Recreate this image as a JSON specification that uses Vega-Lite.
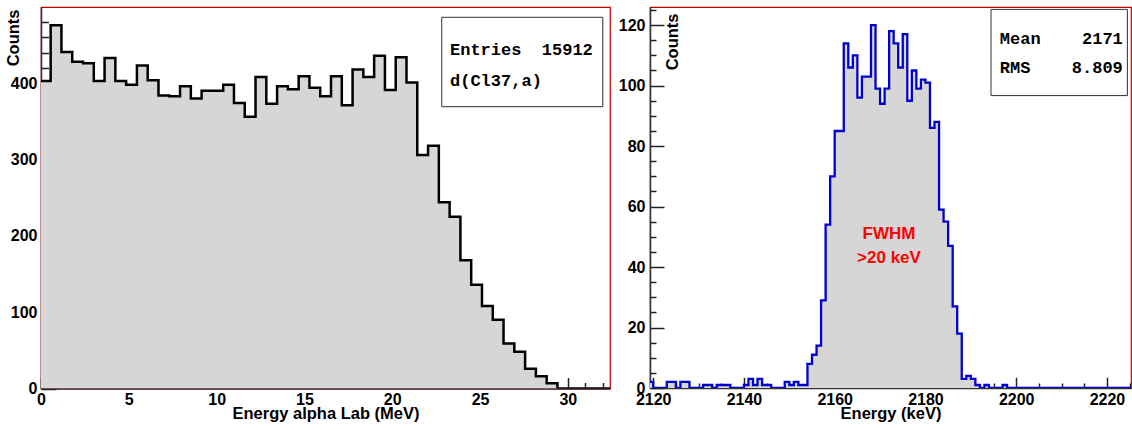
{
  "$schema": "https://vega.github.io/schema/vega-lite/v6.json",
  "autosize": {"type": "none"},
  "padding": {"left": 41, "top": 7, "right": 1091, "bottom": 423},
  "background": "white",
  "bounds": "flush",
  "spacing": 40,
  "config": {
    "view": {"stroke": "#c00000", "strokeWidth": 1.2},
    "font": "Liberation Sans",
    "axis": {
      "labelFont": "Liberation Sans", "labelFontWeight": "bold", "labelFontSize": 16, "labelColor": "black",
      "titleFont": "Liberation Sans", "titleFontWeight": "bold", "titleFontSize": 16.5, "titleColor": "black",
      "grid": false, "domainColor": "#333333", "domainWidth": 1.5, "tickColor": "#222222", "tickWidth": 1.5,
      "labelOverlap": false, "labelFlush": false, "labelBound": false, "zindex": 1, "ticks": true, "tickCount": 500,
      "format": "d"
    }
  },
  "datasets": {
    "alpha": [
      {"E": 0, "counts": 403}, {"E": 0.55, "counts": 476}, {"E": 1.164, "counts": 441}, {"E": 1.778, "counts": 428},
      {"E": 2.392, "counts": 426}, {"E": 3.006, "counts": 403}, {"E": 3.62, "counts": 433}, {"E": 4.234, "counts": 403},
      {"E": 4.848, "counts": 398}, {"E": 5.462, "counts": 423}, {"E": 6.076, "counts": 404}, {"E": 6.69, "counts": 384},
      {"E": 7.304, "counts": 383}, {"E": 7.918, "counts": 396}, {"E": 8.532, "counts": 380}, {"E": 9.146, "counts": 390},
      {"E": 9.76, "counts": 390}, {"E": 10.374, "counts": 398}, {"E": 10.988, "counts": 374}, {"E": 11.602, "counts": 356},
      {"E": 12.216, "counts": 408}, {"E": 12.83, "counts": 373}, {"E": 13.444, "counts": 396}, {"E": 14.058, "counts": 392},
      {"E": 14.672, "counts": 409}, {"E": 15.286, "counts": 394}, {"E": 15.9, "counts": 383}, {"E": 16.514, "counts": 409},
      {"E": 17.128, "counts": 371}, {"E": 17.742, "counts": 418}, {"E": 18.356, "counts": 408}, {"E": 18.97, "counts": 436},
      {"E": 19.584, "counts": 391}, {"E": 20.198, "counts": 434}, {"E": 20.812, "counts": 401}, {"E": 21.426, "counts": 306},
      {"E": 22.04, "counts": 318}, {"E": 22.654, "counts": 244}, {"E": 23.268, "counts": 225}, {"E": 23.882, "counts": 168},
      {"E": 24.496, "counts": 136}, {"E": 25.11, "counts": 108}, {"E": 25.724, "counts": 90}, {"E": 26.338, "counts": 59},
      {"E": 26.952, "counts": 48}, {"E": 27.566, "counts": 26}, {"E": 28.18, "counts": 16}, {"E": 28.794, "counts": 7},
      {"E": 29.408, "counts": 0}, {"E": 30.022, "counts": 0}, {"E": 30.636, "counts": 0}, {"E": 31.25, "counts": 0},
      {"E": 31.864, "counts": 0}, {"E": 32.478, "counts": 0}
    ],
    "gamma": [
      {"E": 2119, "counts": 2}, {"E": 2120, "counts": 0}, {"E": 2121, "counts": 0}, {"E": 2122, "counts": 0},
      {"E": 2123, "counts": 2}, {"E": 2124, "counts": 2}, {"E": 2125, "counts": 0}, {"E": 2126, "counts": 2},
      {"E": 2127, "counts": 2}, {"E": 2128, "counts": 0}, {"E": 2129, "counts": 0}, {"E": 2130, "counts": 0},
      {"E": 2131, "counts": 1}, {"E": 2132, "counts": 1}, {"E": 2133, "counts": 0}, {"E": 2134, "counts": 1},
      {"E": 2135, "counts": 1}, {"E": 2136, "counts": 1}, {"E": 2137, "counts": 0}, {"E": 2138, "counts": 0},
      {"E": 2139, "counts": 0}, {"E": 2140, "counts": 1}, {"E": 2141, "counts": 3}, {"E": 2142, "counts": 1},
      {"E": 2143, "counts": 3}, {"E": 2144, "counts": 1}, {"E": 2145, "counts": 1}, {"E": 2146, "counts": 0},
      {"E": 2147, "counts": 0}, {"E": 2148, "counts": 0}, {"E": 2149, "counts": 2}, {"E": 2150, "counts": 1},
      {"E": 2151, "counts": 2}, {"E": 2152, "counts": 1}, {"E": 2153, "counts": 1}, {"E": 2154, "counts": 8},
      {"E": 2155, "counts": 11}, {"E": 2156, "counts": 14}, {"E": 2157, "counts": 29}, {"E": 2158, "counts": 54},
      {"E": 2159, "counts": 70}, {"E": 2160, "counts": 85}, {"E": 2161, "counts": 85}, {"E": 2162, "counts": 114},
      {"E": 2163, "counts": 106}, {"E": 2164, "counts": 110}, {"E": 2165, "counts": 96}, {"E": 2166, "counts": 103},
      {"E": 2167, "counts": 103}, {"E": 2168, "counts": 120}, {"E": 2169, "counts": 99}, {"E": 2170, "counts": 94},
      {"E": 2171, "counts": 99}, {"E": 2172, "counts": 118}, {"E": 2173, "counts": 114}, {"E": 2174, "counts": 106},
      {"E": 2175, "counts": 117}, {"E": 2176, "counts": 95}, {"E": 2177, "counts": 105}, {"E": 2178, "counts": 99},
      {"E": 2179, "counts": 102}, {"E": 2180, "counts": 101}, {"E": 2181, "counts": 86}, {"E": 2182, "counts": 88},
      {"E": 2183, "counts": 59}, {"E": 2184, "counts": 55}, {"E": 2185, "counts": 47}, {"E": 2186, "counts": 27},
      {"E": 2187, "counts": 18}, {"E": 2188, "counts": 3}, {"E": 2189, "counts": 4}, {"E": 2190, "counts": 3},
      {"E": 2191, "counts": 1}, {"E": 2192, "counts": 0}, {"E": 2193, "counts": 1}, {"E": 2194, "counts": 0},
      {"E": 2195, "counts": 0}, {"E": 2196, "counts": 0}, {"E": 2197, "counts": 1}, {"E": 2198, "counts": 0},
      {"E": 2199, "counts": 0}, {"E": 2200, "counts": 0}, {"E": 2201, "counts": 0}, {"E": 2202, "counts": 0},
      {"E": 2203, "counts": 0}, {"E": 2204, "counts": 0}, {"E": 2205, "counts": 0}, {"E": 2206, "counts": 0},
      {"E": 2207, "counts": 0}, {"E": 2208, "counts": 0}, {"E": 2209, "counts": 0}, {"E": 2210, "counts": 0},
      {"E": 2211, "counts": 0}, {"E": 2212, "counts": 0}, {"E": 2213, "counts": 0}, {"E": 2214, "counts": 0},
      {"E": 2215, "counts": 0}, {"E": 2216, "counts": 0}, {"E": 2217, "counts": 0}, {"E": 2218, "counts": 0},
      {"E": 2219, "counts": 0}, {"E": 2220, "counts": 0}, {"E": 2221, "counts": 0}, {"E": 2222, "counts": 0},
      {"E": 2223, "counts": 0}, {"E": 2224, "counts": 0}, {"E": 2225, "counts": 0}, {"E": 2226, "counts": 0}
    ],
    "one": [{}]
  },
  "hconcat": [
    {
      "width": 569,
      "height": 381.5,
      "layer": [
        {
          "data": {"name": "alpha"},
          "mark": {"type": "area", "interpolate": "step-after", "color": "#d6d6d6", "clip": true},
          "encoding": {
            "x": {"field": "E", "type": "quantitative",
              "scale": {"domain": [0, 32.4], "nice": false, "zero": false},
              "axis": {
                "title": "Energy alpha Lab (MeV)",
                "values": [0,1,2,3,4,5,6,7,8,9,10,11,12,13,14,15,16,17,18,19,20,21,22,23,24,25,26,27,28,29,30,31,32],
                "tickCount": 500,
                "format": "d",
                "tickSize": {"condition": {"test": "datum.value % 5 === 0", "value": -11}, "value": -6},
                "labelExpr": "datum.value % 5 === 0 ? datum.label : ''",
                "labelOverlap": false,
                "labelPadding": 14,
                "titleY": 17, "titleBaseline": "top"
              }
            },
            "y": {"field": "counts", "type": "quantitative",
              "scale": {"domain": [0, 499.8], "nice": false},
              "axis": {
                "title": "Counts",
                "values": [0,20,40,60,80,100,120,140,160,180,200,220,240,260,280,300,320,340,360,380,400,420,440,460,480],
                "tickCount": 500,
                "format": "d",
                "tickSize": {"condition": {"test": "datum.value % 100 === 0", "value": -15}, "value": -7.5},
                "labelExpr": "datum.value % 100 === 0 ? datum.label : ''",
                "labelOverlap": false,
                "labelPadding": 19,
                "titleAngle": -90, "titleAlign": "right", "titleBaseline": "middle", "titleX": -28, "titleY": 2
              }
            }
          }
        },
        {
          "data": {"name": "alpha"},
          "mark": {"type": "line", "interpolate": "step-after", "color": "black", "strokeWidth": 2.5, "clip": true},
          "encoding": {
            "x": {"field": "E", "type": "quantitative"},
            "y": {"field": "counts", "type": "quantitative"}
          }
        },
        {
          "data": {"name": "one"},
          "mark": {"type": "rect", "color": "#222222", "xOffset": 3, "yOffset": 3},
          "encoding": {"x": {"datum": 22.82}, "x2": {"datum": 31.99}, "y": {"datum": 486.3}, "y2": {"datum": 369.2}}
        },
        {
          "data": {"name": "one"},
          "mark": {"type": "rect", "fill": "white", "stroke": "#333333", "strokeWidth": 1},
          "encoding": {"x": {"datum": 22.82}, "x2": {"datum": 31.99}, "y": {"datum": 486.3}, "y2": {"datum": 369.2}}
        },
        {
          "data": {"name": "one"},
          "mark": {"type": "text", "text": "Entries", "align": "left", "baseline": "middle", "font": "Liberation Mono", "fontWeight": "bold", "fontSize": 17, "color": "black"},
          "encoding": {"x": {"datum": 23.29}, "y": {"datum": 443.5}}
        },
        {
          "data": {"name": "one"},
          "mark": {"type": "text", "text": "15912", "align": "right", "baseline": "middle", "font": "Liberation Mono", "fontWeight": "bold", "fontSize": 17, "color": "black"},
          "encoding": {"x": {"datum": 31.42}, "y": {"datum": 443.5}}
        },
        {
          "data": {"name": "one"},
          "mark": {"type": "text", "text": "d(Cl37,a)", "align": "left", "baseline": "middle", "font": "Liberation Mono", "fontWeight": "bold", "fontSize": 17, "color": "black"},
          "encoding": {"x": {"datum": 23.29}, "y": {"datum": 402.9}}
        }
      ]
    },
    {
      "width": 481,
      "height": 381,
      "layer": [
        {
          "data": {"name": "gamma"},
          "mark": {"type": "area", "interpolate": "step-after", "color": "#d6d6d6", "clip": true},
          "encoding": {
            "x": {"field": "E", "type": "quantitative",
              "scale": {"domain": [2119.3, 2225.3], "nice": false, "zero": false},
              "axis": {
                "title": "Energy (keV)",
                "values": [2120,2125,2130,2135,2140,2145,2150,2155,2160,2165,2170,2175,2180,2185,2190,2195,2200,2205,2210,2215,2220,2225],
                "tickCount": 500,
                "tickSize": {"condition": {"test": "datum.value % 20 === 0", "value": -10.7}, "value": -5},
                "labelExpr": "datum.value % 20 === 0 ? datum.label : ''",
                "labelOverlap": false,
                "format": "d",
                "labelPadding": 13.7,
                "titleY": 17, "titleBaseline": "top"
              }
            },
            "y": {"field": "counts", "type": "quantitative",
              "scale": {"domain": [0, 126], "nice": false},
              "axis": {
                "title": "Counts",
                "values": [0,5,10,15,20,25,30,35,40,45,50,55,60,65,70,75,80,85,90,95,100,105,110,115,120,125],
                "tickCount": 500,
                "format": "d",
                "tickSize": {"condition": {"test": "datum.value % 20 === 0", "value": -14}, "value": -6},
                "labelExpr": "datum.value % 20 === 0 ? datum.label : ''",
                "labelOverlap": false,
                "labelPadding": 19,
                "titleAngle": -90, "titleAlign": "right", "titleBaseline": "middle", "titleX": 22.7, "titleY": 6
              }
            }
          }
        },
        {
          "data": {"name": "gamma"},
          "mark": {"type": "line", "interpolate": "step-after", "color": "#0000d0", "strokeWidth": 2.3, "clip": true},
          "encoding": {
            "x": {"field": "E", "type": "quantitative"},
            "y": {"field": "counts", "type": "quantitative"}
          }
        },
        {
          "data": {"name": "one"},
          "mark": {"type": "text", "text": "FWHM", "align": "center", "baseline": "middle", "font": "Liberation Sans", "fontWeight": "bold", "fontSize": 17, "color": "#ff0000"},
          "encoding": {"x": {"datum": 2171.97}, "y": {"datum": 50.8}}
        },
        {
          "data": {"name": "one"},
          "mark": {"type": "text", "text": ">20 keV", "align": "center", "baseline": "middle", "font": "Liberation Sans", "fontWeight": "bold", "fontSize": 17, "color": "#ff0000"},
          "encoding": {"x": {"datum": 2171.97}, "y": {"datum": 43.1}}
        },
        {
          "data": {"name": "one"},
          "mark": {"type": "rect", "color": "#222222", "xOffset": 3, "yOffset": 3},
          "encoding": {"x": {"datum": 2194.45}, "x2": {"datum": 2224.5}, "y": {"datum": 125.2}, "y2": {"datum": 96.7}}
        },
        {
          "data": {"name": "one"},
          "mark": {"type": "rect", "fill": "white", "stroke": "#333333", "strokeWidth": 1},
          "encoding": {"x": {"datum": 2194.45}, "x2": {"datum": 2224.5}, "y": {"datum": 125.2}, "y2": {"datum": 96.7}}
        },
        {
          "data": {"name": "one"},
          "mark": {"type": "text", "text": "Mean", "align": "left", "baseline": "middle", "font": "Liberation Mono", "fontWeight": "bold", "fontSize": 17, "color": "black"},
          "encoding": {"x": {"datum": 2196.4}, "y": {"datum": 115.4}}
        },
        {
          "data": {"name": "one"},
          "mark": {"type": "text", "text": "2171", "align": "right", "baseline": "middle", "font": "Liberation Mono", "fontWeight": "bold", "fontSize": 17, "color": "black"},
          "encoding": {"x": {"datum": 2223.5}, "y": {"datum": 115.4}}
        },
        {
          "data": {"name": "one"},
          "mark": {"type": "text", "text": "RMS", "align": "left", "baseline": "middle", "font": "Liberation Mono", "fontWeight": "bold", "fontSize": 17, "color": "black"},
          "encoding": {"x": {"datum": 2196.4}, "y": {"datum": 105.8}}
        },
        {
          "data": {"name": "one"},
          "mark": {"type": "text", "text": "8.809", "align": "right", "baseline": "middle", "font": "Liberation Mono", "fontWeight": "bold", "fontSize": 17, "color": "black"},
          "encoding": {"x": {"datum": 2223.5}, "y": {"datum": 105.8}}
        }
      ]
    }
  ]
}
